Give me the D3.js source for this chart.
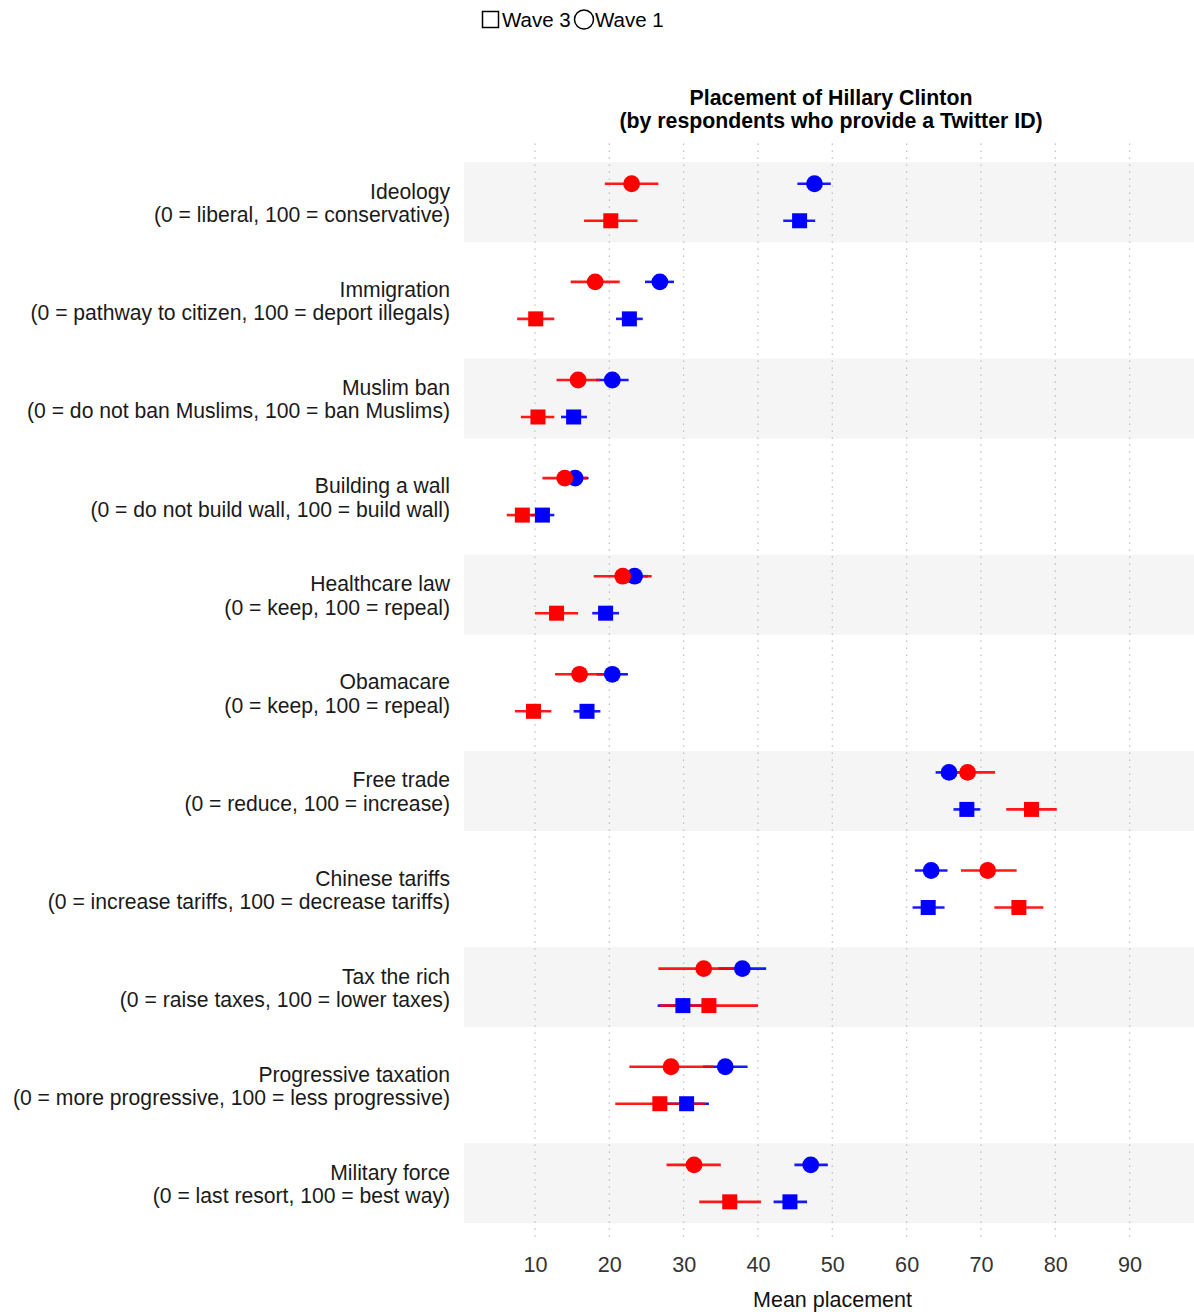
<!DOCTYPE html>
<html>
<head>
<meta charset="utf-8">
<script src="https://cdn.jsdelivr.net/npm/d3@7"></script>
<style>
  html, body { margin: 0; padding: 0; background: #ffffff; }
  svg { display: block; font-family: "Liberation Sans", Arial, sans-serif; }
</style>
</head>
<body>
<svg id="chart" width="1194" height="1315"></svg>
<script>
// Issue positions (top to bottom) and their scale descriptions
const issues = [
  "Ideology", "Immigration", "Muslim ban", "Building a wall", "Healthcare law",
  "Obamacare", "Free trade", "Chinese tariffs", "Tax the rich",
  "Progressive taxation", "Military force"
];
const scaleNotes = [
  "(0 = liberal, 100 = conservative)",
  "(0 = pathway to citizen, 100 = deport illegals)",
  "(0 = do not ban Muslims, 100 = ban Muslims)",
  "(0 = do not build wall, 100 = build wall)",
  "(0 = keep, 100 = repeal)",
  "(0 = keep, 100 = repeal)",
  "(0 = reduce, 100 = increase)",
  "(0 = increase tariffs, 100 = decrease tariffs)",
  "(0 = raise taxes, 100 = lower taxes)",
  "(0 = more progressive, 100 = less progressive)",
  "(0 = last resort, 100 = best way)"
];

// Wave 1 (circles), red group: mean and interval
const wave1RedMean = [23.0, 18.1, 15.8, 14.0, 21.8, 16.0, 68.2, 70.9, 32.7, 28.3, 31.4];
const wave1RedLow  = [19.4, 14.8, 12.9, 11.0, 17.9, 12.7, 65.0, 67.3, 26.6, 22.7, 27.7];
const wave1RedHigh = [26.6, 21.4, 18.7, 17.0, 25.7, 19.3, 71.9, 74.8, 38.8, 34.0, 35.0];

// Wave 1 (circles), blue group
const wave1BlueMean = [47.6, 26.8, 20.4, 15.4, 23.4, 20.4, 65.7, 63.3, 37.9, 35.6, 47.1];
const wave1BlueLow  = [45.3, 24.8, 18.2, 13.6, 21.6, 18.3, 63.9, 61.1, 34.7, 32.6, 44.9];
const wave1BlueHigh = [49.8, 28.7, 22.6, 17.2, 25.2, 22.5, 67.6, 65.5, 41.1, 38.6, 49.4];

// Wave 3 (squares), red group
const wave3RedMean = [20.2, 10.1, 10.4, 8.3, 12.9, 9.8, 76.8, 75.1, 33.4, 26.8, 36.2];
const wave3RedLow  = [16.6, 7.6, 8.1, 6.2, 10.0, 7.3, 73.4, 71.8, 26.8, 20.8, 32.1];
const wave3RedHigh = [23.8, 12.6, 12.6, 10.4, 15.8, 12.2, 80.2, 78.4, 40.0, 32.9, 40.4];

// Wave 3 (squares), blue group
const wave3BlueMean = [45.6, 22.7, 15.2, 11.0, 19.5, 17.0, 68.1, 62.9, 29.9, 30.4, 44.3];
const wave3BlueLow  = [43.4, 20.9, 13.5, 9.4, 17.7, 15.2, 66.3, 60.8, 26.5, 27.5, 42.1];
const wave3BlueHigh = [47.7, 24.5, 17.0, 12.6, 21.3, 18.8, 69.9, 65.1, 33.3, 33.4, 46.6];

const xTicks = [10, 20, 30, 40, 50, 60, 70, 80, 90];
const waves = ["Wave 1", "Wave 3"];
const legendWaves = ["Wave 3", "Wave 1"];

const RED = "#ff0000", BLUE = "#0000ff";

// Flatten into one record per point
function series(wave, color, mean, lo, hi) {
  return issues.map((issue, i) => ({ issue, wave, color, mean: mean[i], lo: lo[i], hi: hi[i] }));
}
const blueRows = [
  ...series("Wave 1", BLUE, wave1BlueMean, wave1BlueLow, wave1BlueHigh),
  ...series("Wave 3", BLUE, wave3BlueMean, wave3BlueLow, wave3BlueHigh)
];
const redRows = [
  ...series("Wave 1", RED, wave1RedMean, wave1RedLow, wave1RedHigh),
  ...series("Wave 3", RED, wave3RedMean, wave3RedLow, wave3RedHigh)
];
const allRows = [...blueRows, ...redRows];

const svg = d3.select("#chart");
const panel = { left: 464, right: 1194, top: 143.4, bottom: 1242.2 };
const centerX = 831;

const x = d3.scaleLinear().domain([0.45, 98.66]).range([panel.left, panel.right]);
const y = d3.scalePoint().domain(issues).range([panel.top, panel.bottom]).padding(0.6);
const yWave = d3.scalePoint().domain(waves).range([-18.5, 18.5]);

// Alternating shaded bands
svg.append("g").selectAll("rect")
  .data(issues.filter((d, i) => i % 2 === 0))
  .join("rect")
  .attr("x", panel.left)
  .attr("width", panel.right - panel.left)
  .attr("y", d => y(d) - 40)
  .attr("height", 80)
  .attr("fill", "#f5f5f5");

// Dotted vertical grid
svg.append("g").selectAll("line")
  .data(xTicks)
  .join("line")
  .attr("x1", d => x(d)).attr("x2", d => x(d))
  .attr("y1", panel.top).attr("y2", panel.bottom)
  .attr("stroke", "#b5b5b5")
  .attr("stroke-width", 1.3)
  .attr("stroke-dasharray", "1.4,5.6");

// X axis tick labels
const xAxis = d3.axisBottom(x).tickValues(xTicks).tickSize(0).tickPadding(0);
const gx = svg.append("g").attr("transform", `translate(0,${panel.bottom + 14})`).call(xAxis);
gx.select(".domain").remove();
gx.selectAll("text")
  .attr("font-size", 21.6)
  .attr("fill", "#333333")
  .attr("font-family", "Liberation Sans, Arial, sans-serif")
  .attr("dy", "0.71em");

svg.append("text")
  .attr("x", centerX + 1.5)
  .attr("y", 1307)
  .attr("text-anchor", "middle")
  .attr("font-size", 21.5)
  .attr("fill", "#111")
  .text("Mean placement");

// Y labels, two lines each
const ylab = svg.append("g").selectAll("text")
  .data(issues)
  .join("text")
  .attr("text-anchor", "end")
  .attr("font-size", 21.15)
  .attr("fill", "#1a1a1a");
ylab.append("tspan").attr("x", 450).attr("y", d => y(d) - 3.5).text(d => d);
ylab.append("tspan").attr("x", 450).attr("y", (d, i) => y(d) + 20).text((d, i) => scaleNotes[i]);

// Error bars: all ranges first, then markers
const ypos = d => y(d.issue) + yWave(d.wave);
svg.append("g").selectAll("line")
  .data(allRows)
  .join("line")
  .attr("x1", d => x(d.lo)).attr("x2", d => x(d.hi))
  .attr("y1", ypos).attr("y2", ypos)
  .attr("stroke", d => d.color)
  .attr("stroke-opacity", 0.9)
  .attr("stroke-width", 2.6);

const SQ = 15, R = 8.4;
const marks = svg.append("g");
allRows.forEach(d => {
  if (d.wave === "Wave 1") {
    marks.append("circle")
      .attr("cx", x(d.mean)).attr("cy", ypos(d)).attr("r", R)
      .attr("fill", d.color);
  } else {
    marks.append("rect")
      .attr("x", x(d.mean) - SQ / 2).attr("y", ypos(d) - SQ / 2)
      .attr("width", SQ).attr("height", SQ)
      .attr("fill", d.color);
  }
});

// Title
const title = svg.append("text")
  .attr("text-anchor", "middle")
  .attr("font-size", 21.3)
  .attr("font-weight", "bold")
  .attr("fill", "#000");
title.append("tspan").attr("x", centerX).attr("y", 105).text("Placement of Hillary Clinton");
title.append("tspan").attr("x", centerX).attr("y", 128).text("(by respondents who provide a Twitter ID)");

// Legend (hollow shapes)
const legend = svg.append("g");
legend.append("rect")
  .attr("x", 482.5).attr("y", 11.5).attr("width", 16).attr("height", 16)
  .attr("fill", "none").attr("stroke", "#000").attr("stroke-width", 1.5);
legend.append("text")
  .attr("x", 502).attr("y", 27).attr("font-size", 20.5).attr("fill", "#000")
  .text(legendWaves[0]);
legend.append("circle")
  .attr("cx", 584).attr("cy", 19.5).attr("r", 9.5)
  .attr("fill", "none").attr("stroke", "#000").attr("stroke-width", 1.5);
legend.append("text")
  .attr("x", 595).attr("y", 27).attr("font-size", 20.5).attr("fill", "#000")
  .text(legendWaves[1]);
</script>
</body>
</html>
